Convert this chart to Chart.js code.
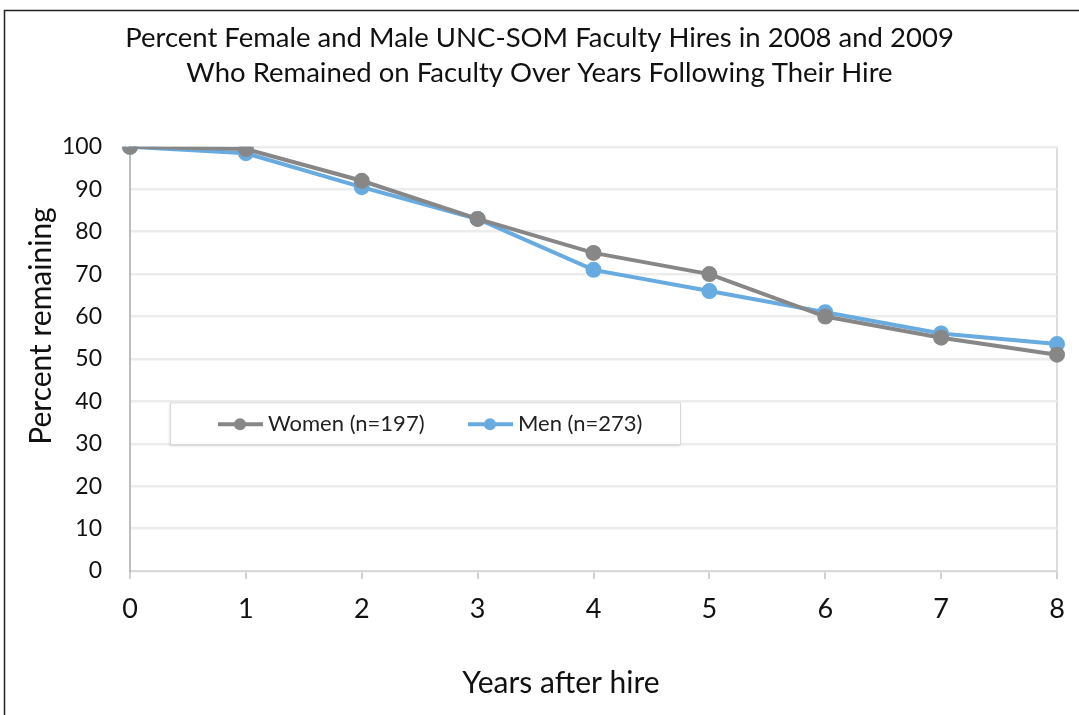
<!DOCTYPE html>
<html lang="en">
<head>
    <meta charset="UTF-8">
    <title>UNC-SOM Faculty Retention</title>
    <script src="https://cdn.jsdelivr.net/npm/chart.js"></script>
    <style>
        html, body { margin: 0; padding: 0; background: #fff; }
        .chart-container { position: relative; width: 1079px; height: 715px; }
    </style>
</head>
<body>
    <div class="chart-container">
        <canvas id="retentionChart"></canvas>
    </div>

    <script>
        // Data
        const years = ['0', '1', '2', '3', '4', '5', '6', '7', '8'];
        const womenValues = [100, 99.5, 92, 83, 75, 70, 60, 55, 51];
        const menValues = [100, 98.5, 90.5, 83, 71, 66, 61, 56, 53.5];
        const seriesLabels = ['Women (n=197)', 'Men (n=273)'];
        const titleLines = [
            'Percent Female and Male UNC-SOM Faculty Hires in 2008 and 2009',
            'Who Remained on Faculty Over Years Following Their Hire'
        ];
        const xAxisTitle = 'Years after hire';
        const yAxisTitle = 'Percent remaining';

        const FONT = 'Lato, "Open Sans", sans-serif';
        const womenColor = '#878787';
        const menColor = '#68abe0';

        // Outer frame (left and top edges show in the original crop)
        const framePlugin = {
            id: 'frame',
            beforeDraw(chart) {
                const ctx = chart.ctx;
                ctx.save();
                ctx.fillStyle = '#fff';
                ctx.fillRect(0, 0, chart.width, chart.height);
                ctx.strokeStyle = '#222';
                ctx.lineWidth = 1.5;
                ctx.strokeRect(4.5, 10.5, chart.width + 20, chart.height + 20);
                ctx.restore();
            }
        };

        // Axis titles, placed where the original has them
        const axisTitlePlugin = {
            id: 'axisTitles',
            afterDraw(chart) {
                const ctx = chart.ctx;
                ctx.save();
                ctx.fillStyle = '#111';
                ctx.font = '30px ' + FONT;
                ctx.textAlign = 'center';
                ctx.textBaseline = 'middle';
                ctx.fillText(xAxisTitle, 561, 683);
                ctx.translate(41, 326);
                ctx.rotate(-Math.PI / 2);
                ctx.fillText(yAxisTitle, 0, 0);
                ctx.restore();
            }
        };

        // Legend box drawn inside the plot area
        const boxLegendPlugin = {
            id: 'boxLegend',
            afterDatasetsDraw(chart) {
                const ctx = chart.ctx;
                const area = chart.chartArea;
                const x = area.left + 40;
                const y = chart.scales.y.getPixelForValue(40) + 1;
                const w = 510, h = 42;
                ctx.save();
                ctx.shadowColor = 'rgba(0,0,0,0.18)';
                ctx.shadowOffsetY = 2;
                ctx.shadowBlur = 3;
                ctx.fillStyle = '#fff';
                ctx.fillRect(x, y, w, h);
                ctx.shadowColor = 'transparent';
                ctx.strokeStyle = '#d9d9d9';
                ctx.lineWidth = 1;
                ctx.strokeRect(x + 0.5, y + 0.5, w, h);

                const items = [
                    { text: seriesLabels[0], color: womenColor, lx: x + 48 },
                    { text: seriesLabels[1], color: menColor, lx: x + 298 }
                ];
                const cy = y + h / 2 + 1;
                ctx.font = '22px ' + FONT;
                ctx.textBaseline = 'middle';
                items.forEach(it => {
                    ctx.strokeStyle = it.color;
                    ctx.lineWidth = 4;
                    ctx.beginPath();
                    ctx.moveTo(it.lx, cy);
                    ctx.lineTo(it.lx + 45, cy);
                    ctx.stroke();
                    ctx.fillStyle = it.color;
                    ctx.beginPath();
                    ctx.arc(it.lx + 22, cy, 6, 0, Math.PI * 2);
                    ctx.fill();
                    ctx.fillStyle = '#222';
                    ctx.fillText(it.text, it.lx + 50, cy);
                });
                ctx.restore();
            }
        };

        new Chart(document.getElementById('retentionChart').getContext('2d'), {
            type: 'line',
            data: {
                labels: years,
                datasets: [
                    {
                        label: seriesLabels[0],
                        data: womenValues,
                        borderColor: womenColor,
                        backgroundColor: womenColor,
                        borderWidth: 4,
                        pointRadius: 6,
                        pointHoverRadius: 6,
                        tension: 0
                    },
                    {
                        label: seriesLabels[1],
                        data: menValues,
                        borderColor: menColor,
                        backgroundColor: menColor,
                        borderWidth: 4,
                        pointRadius: 6,
                        pointHoverRadius: 6,
                        tension: 0
                    }
                ]
            },
            options: {
                responsive: true,
                maintainAspectRatio: false,
                animation: false,
                layout: { padding: 0 },
                plugins: {
                    legend: { display: false },
                    tooltip: { enabled: false },
                    title: {
                        display: true,
                        text: titleLines,
                        color: '#111',
                        font: { family: FONT, size: 27.5, weight: 'normal', lineHeight: 1.27 },
                        padding: { top: 21, bottom: 56 }
                    }
                },
                scales: {
                    x: {
                        offset: false,
                        afterFit(scale) {
                            scale.height = 144;
                            scale.paddingRight = 22;
                        },
                        grid: {
                            drawOnChartArea: true,
                            color: ctx => (ctx.index === years.length - 1 ? '#dcdcdc' : 'rgba(0,0,0,0)'),
                            lineWidth: 2,
                            tickColor: '#d0d0d0',
                            tickLength: 8
                        },
                        border: { display: true, color: '#d9d9d9', width: 2 },
                        ticks: {
                            color: '#111',
                            padding: 14,
                            maxRotation: 0,
                            font: { family: FONT, size: 27 }
                        }
                    },
                    y: {
                        min: 0,
                        max: 100,
                        afterFit(scale) {
                            scale.width = 130;
                        },
                        grid: {
                            color: '#ececec',
                            lineWidth: 2.5,
                            drawTicks: false
                        },
                        border: { display: true, color: '#bdbdbd', width: 2 },
                        ticks: {
                            stepSize: 10,
                            color: '#111',
                            padding: 28,
                            font: { family: FONT, size: 23 }
                        }
                    }
                }
            },
            plugins: [framePlugin, axisTitlePlugin, boxLegendPlugin]
        });
    </script>
</body>
</html>
